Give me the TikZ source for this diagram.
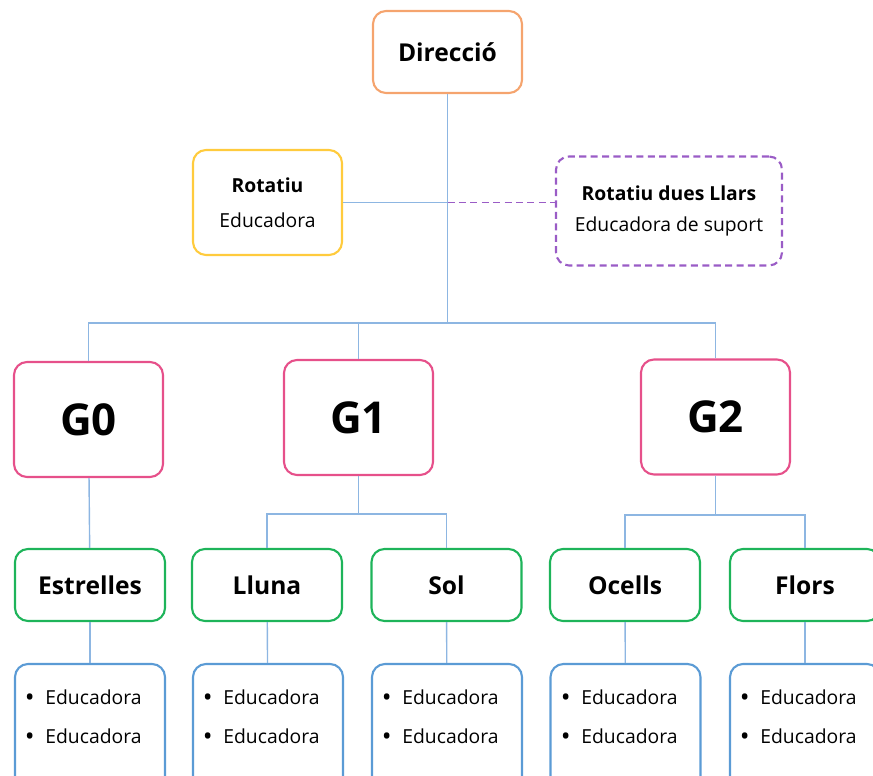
\documentclass[tikz,border=0pt]{standalone}
\usepackage{fontspec}
\setsansfont{Open Sans}
\definecolor{dirorange}{HTML}{F5A46E}
\definecolor{rotyellow}{HTML}{FFCB3D}
\definecolor{rotpurple}{HTML}{9A5CC6}
\definecolor{grppink}{HTML}{E6508A}
\definecolor{clsgreen}{HTML}{1EB45A}
\definecolor{lstblue}{HTML}{5B9BD5}
\definecolor{linkblue}{HTML}{8DB6E2}
\newcommand{\itm}{\raisebox{-0.12em}{\scalebox{1.35}{\textbullet}}\hspace{0.55em}}

\begin{document}
\begin{tikzpicture}[x=0.02cm, y=-0.02cm,
                        every node/.style={rounded corners=0.26cm, line width=1.2pt, font=\sffamily, align=center},
                        link/.style={draw=linkblue, line width=0.8pt}]
                        \clip (0,0) rectangle (873,776);

                        % Direction and rotating staff
                        \node[draw=dirorange, minimum width=2.98cm, minimum height=1.64cm, font=\sffamily\bfseries\fontsize{14}{16}\selectfont] (dir) at (447.5,52) {Direcció}; % Root node
                        \node[draw=rotyellow, minimum width=2.98cm, minimum height=2.1cm, font=\sffamily\fontsize{11}{13}\selectfont] (rot) at (267.5,202.5) {\textbf{Rotatiu}\\[7pt]Educadora}; % Left of trunk
                        \node[draw=rotpurple, dash pattern=on 4pt off 2.5pt, minimum width=4.52cm, minimum height=2.18cm, font=\sffamily\fontsize{11}{13}\selectfont] (rotb) at (669,211) {\textbf{Rotatiu dues Llars}\\[5pt]Educadora de suport}; % Right of trunk

                        % Groups
                        \node[draw=grppink, minimum width=2.98cm, minimum height=2.3cm, font=\sffamily\bfseries\fontsize{25}{30}\selectfont] (g0) at (88.5,419.5) {G0};
                        \node[draw=grppink, minimum width=2.98cm, minimum height=2.3cm, font=\sffamily\bfseries\fontsize{25}{30}\selectfont] (g1) at (358.5,417.5) {G1};
                        \node[draw=grppink, minimum width=2.98cm, minimum height=2.3cm, font=\sffamily\bfseries\fontsize{25}{30}\selectfont] (g2) at (715.5,417) {G2};

                        % Classes
                        \node[draw=clsgreen, minimum width=3cm, minimum height=1.44cm, font=\sffamily\bfseries\fontsize{14}{16}\selectfont] (est) at (90,585) {Estrelles}; % Child of G0
                        \node[draw=clsgreen, minimum width=3cm, minimum height=1.44cm, font=\sffamily\bfseries\fontsize{14}{16}\selectfont] (llu) at (267,585) {Lluna}; % Child of G1
                        \node[draw=clsgreen, minimum width=3cm, minimum height=1.44cm, font=\sffamily\bfseries\fontsize{14}{16}\selectfont] (sol) at (446.5,585) {Sol}; % Child of G1
                        \node[draw=clsgreen, minimum width=3cm, minimum height=1.44cm, font=\sffamily\bfseries\fontsize{14}{16}\selectfont] (oce) at (625,585) {Ocells}; % Child of G2
                        \node[draw=clsgreen, minimum width=3cm, minimum height=1.44cm, font=\sffamily\bfseries\fontsize{14}{16}\selectfont] (flo) at (805,585) {Flors}; % Child of G2

                        % Staff lists
                        \node[draw=lstblue, minimum width=3cm, minimum height=2.6cm] (l0) at (90,729) {};
                        \node[draw=lstblue, minimum width=3cm, minimum height=2.6cm] (l1) at (268,729) {};
                        \node[draw=lstblue, minimum width=3cm, minimum height=2.6cm] (l2) at (447,729) {};
                        \node[draw=lstblue, minimum width=3cm, minimum height=2.6cm] (l3) at (625.5,729) {};
                        \node[draw=lstblue, minimum width=3cm, minimum height=2.6cm] (l4) at (805,729) {};
                        \node[anchor=north west, align=left, font=\sffamily\fontsize{11}{22}\selectfont] (t0) at (18,683) {\itm Educadora\\\itm Educadora};
                        \node[anchor=north west, align=left, font=\sffamily\fontsize{11}{22}\selectfont] (t1) at (196,683) {\itm Educadora\\\itm Educadora};
                        \node[anchor=north west, align=left, font=\sffamily\fontsize{11}{22}\selectfont] (t2) at (375,683) {\itm Educadora\\\itm Educadora};
                        \node[anchor=north west, align=left, font=\sffamily\fontsize{11}{22}\selectfont] (t3) at (554,683) {\itm Educadora\\\itm Educadora};
                        \node[anchor=north west, align=left, font=\sffamily\fontsize{11}{22}\selectfont] (t4) at (733,683) {\itm Educadora\\\itm Educadora};

                        % Junctions
                        \coordinate (side) at (447.5,202.5);
                        \coordinate (bus) at (447.5,323);
                        \coordinate (bus1) at (358.5,514);
                        \coordinate (bus2) at (715.5,515);

                        % Define edges
                        \path[link] (dir) -- (bus);
                        \path[link] (rot) -- (side);
                        \draw[rotpurple, line width=1.1pt, dash pattern=on 4pt off 2.5pt] (side) -- (rotb.west |- side);
                        \path[link] (g0.north) |- (bus) -| (g2.north);
                        \path[link] (g1.north) -- (g1 |- bus);
                        \path[link] (g0) -- (est);
                        \path[link] (g1) -- (bus1);
                        \path[link] (llu.north) |- (bus1) -| (sol.north);
                        \path[link] (g2) -- (bus2);
                        \path[link] (oce.north) |- (bus2) -| (flo.north);
                        \path[link] (est) -- (l0);
                        \path[link] (llu) -- (l1);
                        \path[link] (sol) -- (l2);
                        \path[link] (oce) -- (l3);
                        \path[link] (flo) -- (l4);
                    \end{tikzpicture}
\end{document}
